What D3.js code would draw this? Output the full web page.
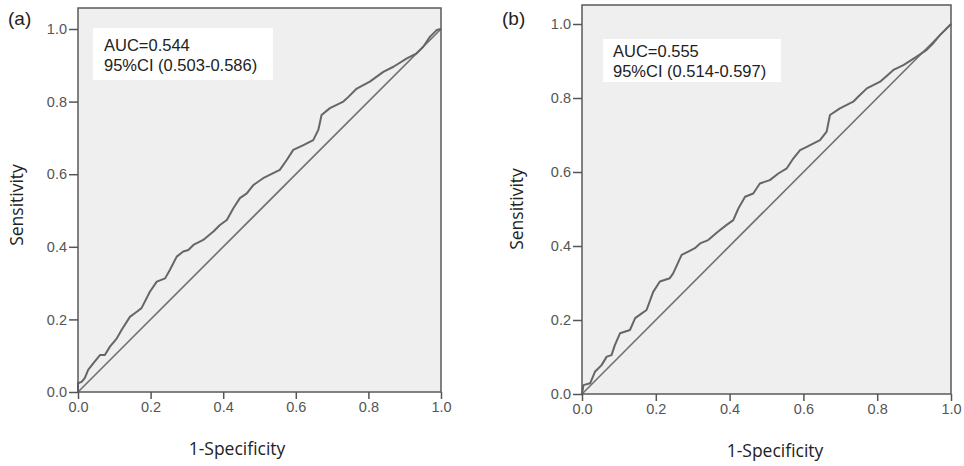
<!DOCTYPE html>
<html>
<head>
<meta charset="utf-8">
<script src="https://cdn.jsdelivr.net/npm/d3@7/dist/d3.min.js"></script>
<style>
  html, body { margin: 0; padding: 0; background: #fff; }
  svg { display: block; }
  .tick text { font-family: "Liberation Sans", Arial, sans-serif; font-size: 14.5px; fill: #555; }
  .tick line { stroke: #555; stroke-width: 1.5; }
  .domain { display: none; }
</style>
</head>
<body>
<svg id="chart" width="964" height="466"></svg>
<script>
// Panel (a): ROC curve points (1-specificity, sensitivity)
const fprA = [0, 0, 0.010, 0.019, 0.028, 0.042, 0.061, 0.074, 0.088, 0.107, 0.120, 0.143, 0.162, 0.175,
  0.198, 0.217, 0.240, 0.253, 0.272, 0.290, 0.304, 0.318, 0.345, 0.373, 0.391, 0.410, 0.428, 0.446,
  0.465, 0.483, 0.510, 0.556, 0.575, 0.593, 0.621, 0.648, 0.662, 0.671, 0.694, 0.731, 0.745, 0.768,
  0.804, 0.841, 0.869, 0.906, 0.933, 0.951, 0.970, 0.988, 1];
const tprA = [0, 0.024, 0.028, 0.039, 0.061, 0.079, 0.102, 0.102, 0.125, 0.148, 0.171, 0.207, 0.221, 0.231,
  0.276, 0.304, 0.313, 0.336, 0.373, 0.387, 0.391, 0.405, 0.419, 0.442, 0.460, 0.474, 0.506, 0.534,
  0.547, 0.570, 0.589, 0.612, 0.639, 0.667, 0.680, 0.694, 0.722, 0.763, 0.782, 0.800, 0.813, 0.836,
  0.855, 0.882, 0.896, 0.919, 0.933, 0.951, 0.979, 0.997, 1];

// Panel (b): ROC curve points
const fprB = [0, 0.004, 0.022, 0.035, 0.053, 0.067, 0.080, 0.089, 0.103, 0.130, 0.144, 0.162, 0.175,
  0.193, 0.211, 0.238, 0.247, 0.270, 0.288, 0.306, 0.320, 0.342, 0.369, 0.392, 0.410, 0.424, 0.442,
  0.464, 0.482, 0.509, 0.532, 0.555, 0.573, 0.591, 0.609, 0.645, 0.663, 0.672, 0.699, 0.735, 0.749,
  0.772, 0.808, 0.844, 0.871, 0.907, 0.934, 0.952, 0.970, 0.988, 1];
const tprB = [0, 0.024, 0.029, 0.060, 0.078, 0.101, 0.105, 0.132, 0.164, 0.173, 0.205, 0.218, 0.227,
  0.276, 0.304, 0.313, 0.326, 0.376, 0.385, 0.394, 0.407, 0.416, 0.439, 0.457, 0.470, 0.502, 0.533,
  0.542, 0.569, 0.578, 0.596, 0.610, 0.637, 0.659, 0.668, 0.686, 0.709, 0.754, 0.772, 0.790, 0.804,
  0.826, 0.844, 0.876, 0.889, 0.912, 0.930, 0.948, 0.970, 0.988, 1];

const panelLabels = ["(a)", "(b)"];
const aucLabels = ["AUC=0.544", "AUC=0.555"];
const ciLabels = ["95%CI (0.503-0.586)", "95%CI (0.514-0.597)"];
const tickValues = [0, 0.2, 0.4, 0.6, 0.8, 1.0];
const xTitle = "1-Specificity";
const yTitle = "Sensitivity";

const svg = d3.select("#chart");

const panels = [
  { fpr: fprA, tpr: tprA, label: panelLabels[0], auc: aucLabels[0], ci: ciLabels[0],
    x0: 78, x1: 441, y0: 392, y1: 29, top: 8,
    labelX: 8, labelY: 25,
    box: { x: 93, y: 28, w: 180, h: 52 }, textX: 104, textY: 51,
    xTitleX: 237, xTitleY: 455, yTitleX: 23, yTitleY: 205 },
  { fpr: fprB, tpr: tprB, label: panelLabels[1], auc: aucLabels[1], ci: ciLabels[1],
    x0: 582, x1: 951, y0: 394, y1: 24, top: 5,
    labelX: 502, labelY: 25,
    box: { x: 603, y: 39, w: 178, h: 43 }, textX: 613, textY: 57,
    xTitleX: 775, xTitleY: 457, yTitleX: 523, yTitleY: 209 }
];

panels.forEach(p => {
  const x = d3.scaleLinear().domain([0, 1]).range([p.x0, p.x1]);
  const y = d3.scaleLinear().domain([0, 1]).range([p.y0, p.y1]);
  const yTop = y.invert(p.top);

  const g = svg.append("g");

  // plot background
  g.append("rect")
    .attr("x", x(0)).attr("y", y(yTop))
    .attr("width", x(1) - x(0)).attr("height", y(0) - y(yTop))
    .attr("fill", "#efefef");

  // annotation box
  g.append("rect")
    .attr("x", p.box.x).attr("y", p.box.y)
    .attr("width", p.box.w).attr("height", p.box.h)
    .attr("fill", "#ffffff");
  const t = g.append("text")
    .attr("font-family", "'Liberation Sans', Arial, sans-serif")
    .attr("font-size", 16.5)
    .attr("fill", "#222");
  t.append("tspan").attr("x", p.textX).attr("y", p.textY).text(p.auc);
  t.append("tspan").attr("x", p.textX).attr("y", p.textY + 20).text(p.ci);

  // reference diagonal
  g.append("line")
    .attr("x1", x(0)).attr("y1", y(0))
    .attr("x2", x(1)).attr("y2", y(1))
    .attr("stroke", "#707070").attr("stroke-width", 1.6);

  // ROC curve
  const pts = p.fpr.map((f, i) => [f, p.tpr[i]]);
  g.append("path")
    .datum(pts)
    .attr("d", d3.line().x(d => x(d[0])).y(d => y(d[1])))
    .attr("fill", "none")
    .attr("stroke", "#666")
    .attr("stroke-width", 2)
    .attr("stroke-linejoin", "round");

  // frame
  g.append("rect")
    .attr("x", x(0)).attr("y", y(yTop))
    .attr("width", x(1) - x(0)).attr("height", y(0) - y(yTop))
    .attr("fill", "none").attr("stroke", "#5a5a5a").attr("stroke-width", 1.5);

  // axes
  g.append("g")
    .attr("transform", `translate(0,${y(0)})`)
    .call(d3.axisBottom(x).tickValues(tickValues).tickFormat(d3.format(".1f"))
      .tickSize(7).tickPadding(3).tickSizeOuter(0));
  g.append("g")
    .attr("transform", `translate(${x(0)},0)`)
    .call(d3.axisLeft(y).tickValues(tickValues).tickFormat(d3.format(".1f"))
      .tickSize(9).tickPadding(2).tickSizeOuter(0));

  // titles
  g.append("text")
    .attr("x", p.xTitleX).attr("y", p.xTitleY)
    .attr("text-anchor", "middle")
    .attr("font-family", "'Open Sans', sans-serif")
    .attr("font-size", 17.5)
    .attr("fill", "#222")
    .text(xTitle);
  g.append("text")
    .attr("transform", `translate(${p.yTitleX},${p.yTitleY}) rotate(-90)`)
    .attr("text-anchor", "middle")
    .attr("font-family", "'Open Sans', sans-serif")
    .attr("font-size", 17.5)
    .attr("fill", "#222")
    .text(yTitle);

  // panel label
  g.append("text")
    .attr("x", p.labelX).attr("y", p.labelY)
    .attr("font-family", "'Liberation Sans', Arial, sans-serif")
    .attr("font-size", 19)
    .attr("fill", "#222")
    .text(p.label);
});
</script>
</body>
</html>
